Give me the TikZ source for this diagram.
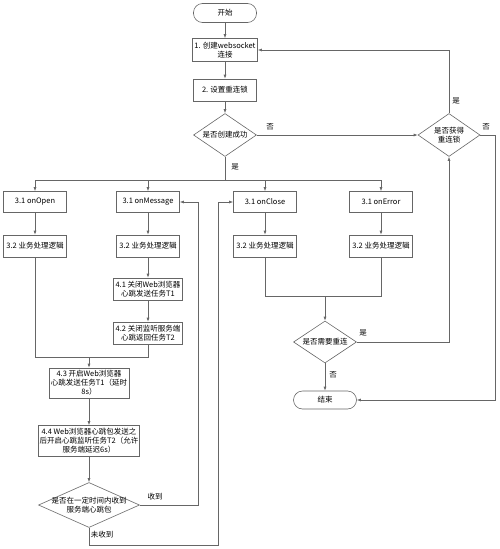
\documentclass[tikz,border=0pt]{standalone}
\usepackage{fontspec}
\setmainfont{Noto Sans CJK SC}
\usetikzlibrary{positioning,arrows.meta,shapes.geometric}
\definecolor{lineGray}{HTML}{666666}
\tikzset{>={Latex[length=4pt,width=3pt]},
  every node/.style={font=\fontsize{7.5}{9}\selectfont,align=center,inner sep=1pt},
  stepbox/.style={draw=lineGray,line width=0.6pt,minimum width=63pt,minimum height=22pt},
  termbox/.style={draw=lineGray,line width=0.6pt,rounded corners=9pt,minimum width=63pt,minimum height=19pt},
  askbox/.style={diamond,draw=lineGray,line width=0.6pt,inner sep=0pt},
  flow/.style={draw=lineGray,line width=0.6pt}}

\begin{document}
\begin{tikzpicture}[x=1pt,y=-1pt]
      \useasboundingbox (0,0) rectangle (500,549);

      \node[termbox] (startN)  at (225,13)  {开始};
      \node[stepbox,minimum width=65pt,minimum height=23pt] (connN) at (225,50) {1. 创建websocket\\连接};
      \node[stepbox] (lockN)   at (225,90)  {2. 设置重连锁};
      \node[askbox,minimum width=63pt,minimum height=43pt,label=center:{是否创建成功}] (succN) at (225,135) {};
      \node[askbox,minimum width=62pt,minimum height=43pt,label=center:{是否获得\\重连锁}] (gotLockN) at (449,135) {};

      \node[stepbox,minimum height=21pt] (openN)  at (35,202)  {3.1 onOpen};
      \node[stepbox,minimum height=21pt] (msgN)   at (148,202) {3.1 onMessage};
      \node[stepbox,minimum height=21pt] (closeN) at (265,202) {3.1 onClose};
      \node[stepbox,minimum height=21pt] (errN)   at (381,202) {3.1 onError};

      \node[stepbox] (openB)  at (35,246)  {3.2 业务处理逻辑};
      \node[stepbox] (msgB)   at (148,246) {3.2 业务处理逻辑};
      \node[stepbox] (closeB) at (265,246) {3.2 业务处理逻辑};
      \node[stepbox] (errB)   at (381,246) {3.2 业务处理逻辑};

      \node[stepbox,minimum width=69pt] (t1OffN) at (148,289) {4.1 关闭Web浏览器\\心跳发送任务T1};
      \node[stepbox,minimum width=69pt] (t2OffN) at (148,333) {4.2 关闭监听服务端\\心跳返回任务T2};
      \node[stepbox,minimum width=80pt,minimum height=30pt] (t1OnN) at (89,383) {4.3 开启Web浏览器\\心跳发送任务T1（延时\\8s）};
      \node[stepbox,minimum width=101pt,minimum height=31pt] (t2OnN) at (89,441) {4.4 Web浏览器心跳包发送之\\后开启心跳监听任务T2（允许\\服务端延迟6s）};
      \node[askbox,minimum width=101pt,minimum height=45pt,label=center:{是否在一定时间内收到\\服务端心跳包}] (beatN) at (89,505) {};

      \node[askbox,minimum width=63pt,minimum height=42pt,label=center:{是否需要重连}] (reconN) at (325,342) {};
      \node[termbox,minimum height=18pt] (endN) at (325,400) {结束};

      \node (succNoL)   at (270,127) {否};
      \node (succYesL)  at (235,167) {是};
      \node (lockYesL)  at (456,101) {是};
      \node (lockNoL)   at (486,127) {否};
      \node (beatYesL)  at (155,497) {收到};
      \node (beatNoL)   at (102,535) {未收到};
      \node (reconYesL) at (363,333) {是};
      \node (reconNoL)  at (333,375) {否};

      \coordinate (busC)   at (225,180);
      \coordinate (mergeC) at (89,357);
      \coordinate (joinC)  at (325,296);
      \coordinate (missC)  at (218,545);

      \draw[flow,->] (startN.south) -- (connN.north);
      \draw[flow,->] (connN.south)  -- (lockN.north);
      \draw[flow,->] (lockN.south)  -- (succN.north);
      \draw[flow,->] (succN.east)   -- (gotLockN.west);
      \draw[flow,->] (gotLockN.north) |- (connN.east);
      \draw[flow,->] (gotLockN.east) -- ++(15,0) |- (endN.east);

      \draw[flow]    (succN.south) -- (busC);
      \draw[flow,->] (busC) -| (openN.north);
      \draw[flow,->] (busC) -| (msgN.north);
      \draw[flow,->] (busC) -| (closeN.north);
      \draw[flow,->] (busC) -| (errN.north);

      \draw[flow,->] (openN.south)  -- (openB.north);
      \draw[flow,->] (msgN.south)   -- (msgB.north);
      \draw[flow,->] (closeN.south) -- (closeB.north);
      \draw[flow,->] (errN.south)   -- (errB.north);

      \draw[flow,->] (msgB.south)   -- (t1OffN.north);
      \draw[flow,->] (t1OffN.south) -- (t2OffN.north);
      \draw[flow]    (openB.south)  |- (mergeC);
      \draw[flow]    (t2OffN.south) |- (mergeC);
      \draw[flow,->] (mergeC)       -- (t1OnN.north);
      \draw[flow,->] (t1OnN.south)  -- (t2OnN.north);
      \draw[flow,->] (t2OnN.south)  -- (beatN.north);

      \draw[flow,->] (beatN.east)  -- ++(58,0) |- (msgN.east);
      \draw[flow,->] (beatN.south) |- (missC) |- (closeN.west);

      \draw[flow]    (closeB.south) |- (joinC);
      \draw[flow]    (errB.south)   |- (joinC);
      \draw[flow,->] (joinC)        -- (reconN.north);
      \draw[flow,->] (reconN.east)  -| (gotLockN.south);
      \draw[flow,->] (reconN.south) -- (endN.north);
    \end{tikzpicture}
\end{document}
